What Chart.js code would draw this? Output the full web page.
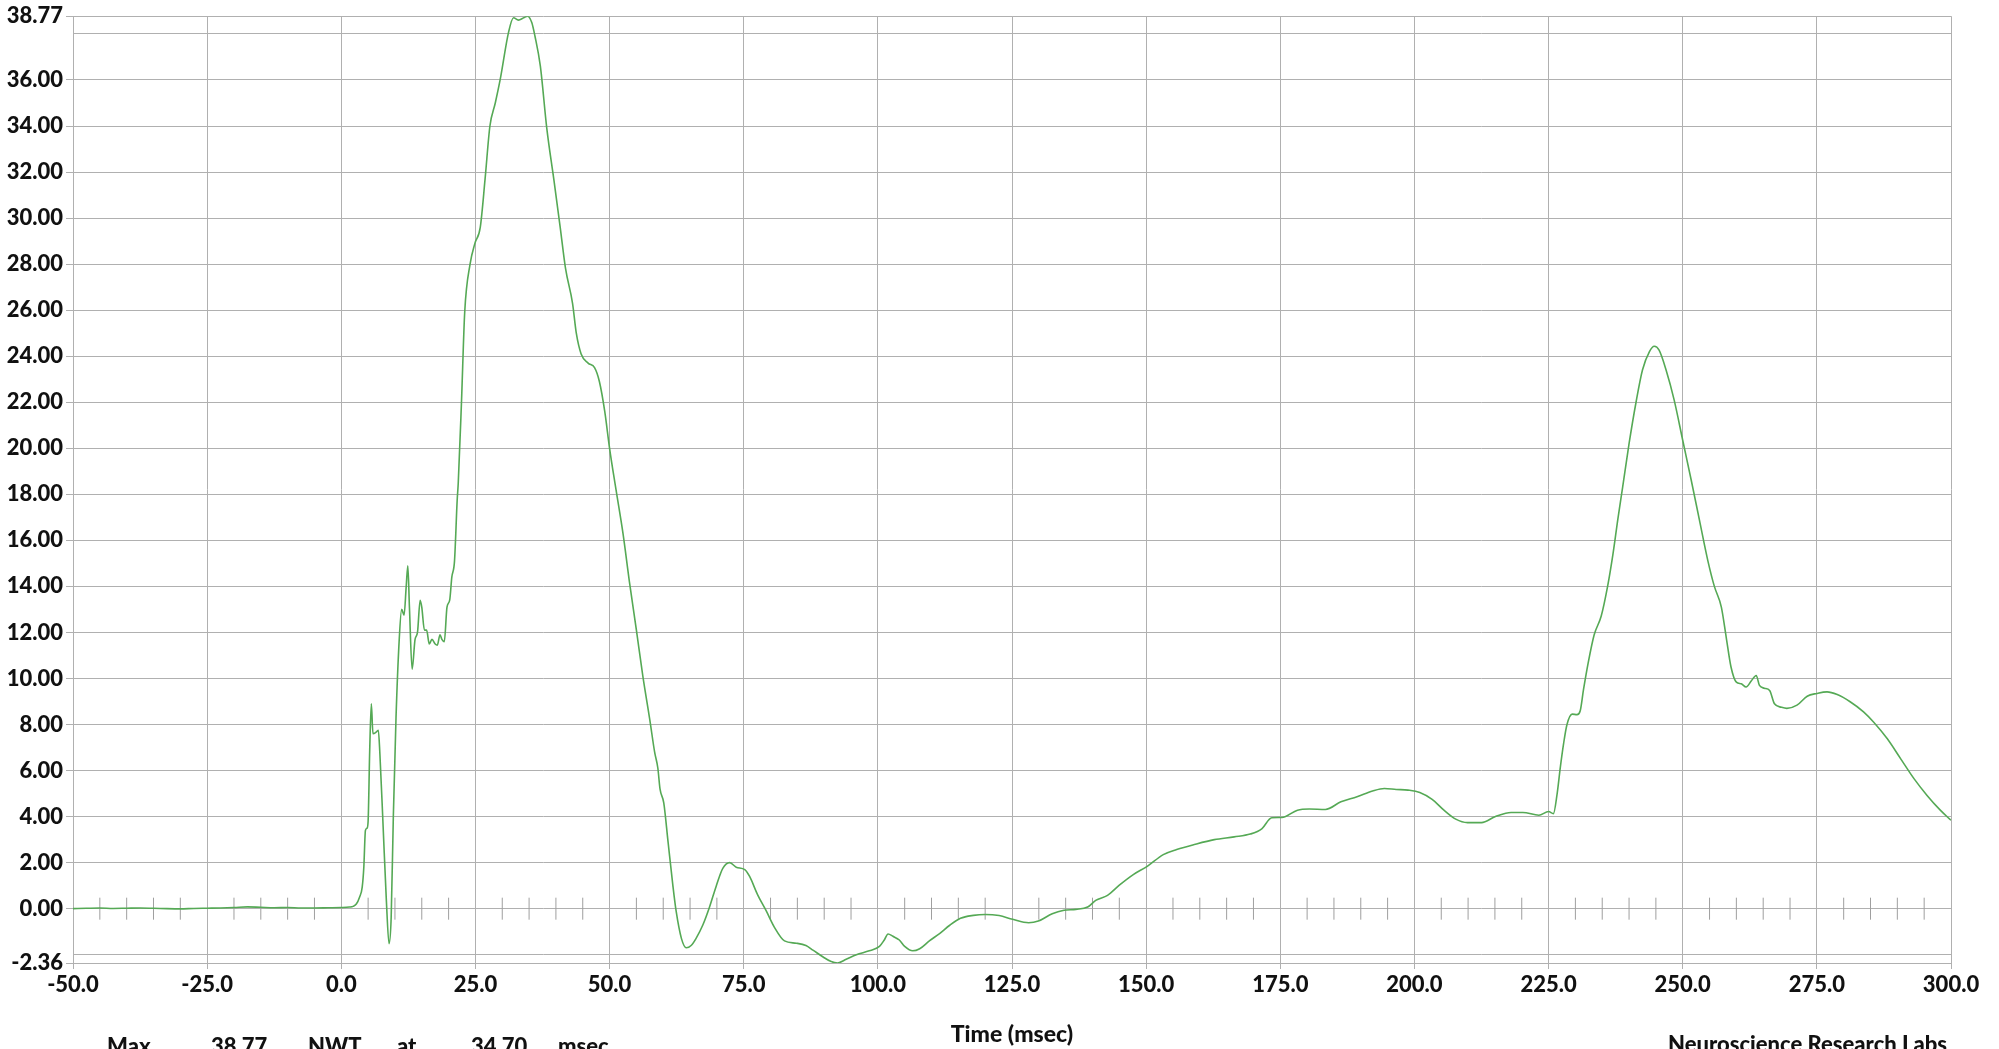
<!DOCTYPE html>
<html>
<head>
<meta charset="utf-8">
<script src="https://cdn.jsdelivr.net/npm/chart.js@4.4.0/dist/chart.umd.min.js"></script>
<style>
  html, body { margin: 0; padding: 0; background: #ffffff; overflow: hidden; }
  #wrap { position: relative; width: 1999px; height: 1049px; overflow: hidden; }
  .note { position: absolute; font-family: Lato, "Open Sans", sans-serif; font-weight: 900;
          font-size: 22px; line-height: 22px; color: #111111; white-space: nowrap; }
</style>
</head>
<body>
<div id="wrap">
  <canvas id="chart" width="1999" height="1049"></canvas>
  <span class="note" style="left:107px; top:1035px;">Max</span>
  <span class="note" style="left:211px; top:1035px;">38.77</span>
  <span class="note" style="left:308px; top:1035px;">NWT</span>
  <span class="note" style="left:397px; top:1035px;">at</span>
  <span class="note" style="left:471px; top:1035px;">34.70</span>
  <span class="note" style="left:558px; top:1035px;">msec</span>
  <span class="note" style="left:1668px; top:1033px;">Neuroscience Research Labs</span>
</div>
<script>
// ---- data ----
const timeMs = [
  -50, -47.5, -45, -42.5, -40, -37.5, -35, -32.5, -30, -27.5, -25, -22.5, -20, -17.5, -15, -12.5, -10, -7.5, -5, -2.5,
  0, 1.5, 2.2, 2.8, 3.4, 3.9, 4.2, 4.5, 4.8, 5.0, 5.3, 5.6, 5.9, 6.4, 6.9, 7.2, 7.8, 8.4, 8.9, 9.3,
  9.7, 10.2, 10.8, 11.25, 11.7, 12.1, 12.4, 12.7, 13.2, 13.75, 14.2, 14.7, 15.0, 15.5, 15.9, 16.4, 16.9, 17.5, 17.9, 18.4,
  18.75, 19.2, 19.7, 20.2, 20.6, 21.1, 21.6, 21.8, 22.4, 23.0, 24.0, 24.9, 25.9, 26.8, 27.7, 28.7, 29.6, 31.2, 32.1, 33.0,
  34.0, 34.7, 35.5, 36.1, 37.1, 38.3, 39.6, 40.8, 41.8, 43.1, 43.8, 44.7, 46.0, 47.2, 48.1, 49.1, 50.0, 51.2, 52.5, 53.7,
  55.0, 56.2, 57.5, 58.4, 59.0, 59.4, 60.1, 60.9, 61.8, 62.4, 63.4, 64.3, 65.2, 66.1, 67.4, 68.6, 69.9, 71.1, 72.4, 73.6,
  75.2, 76.1, 77.6, 79.2, 80.7, 82.6, 84.8, 86.6, 87.9, 89.8, 91.3, 92.5, 94.1, 96.0, 98.4, 100.3, 101.2, 101.9, 102.8, 104.0,
  105.0, 106.5, 107.8, 109.6, 111.5, 113.4, 115.4, 117.8, 120.0, 122.6, 125.1, 128.1, 129.9, 132.5, 134.7, 136.9, 139.1, 140.6, 142.8, 145.0,
  147.6, 150.2, 153.2, 155.7, 159.0, 162.7, 166.4, 169.4, 171.6, 173.4, 175.3, 178.2, 180.4, 183.4, 186.3, 189.3, 192.2, 194.4, 196.6, 198.8,
  201.0, 203.3, 205.5, 207.7, 209.9, 212.5, 215.1, 218.0, 220.2, 223.2, 225.0, 225.9, 226.6, 227.2, 227.8, 228.4, 229.4, 230.3, 230.9, 231.5,
  232.4, 233.5, 234.8, 236.0, 237.0, 237.9, 238.8, 240.0, 241.3, 242.5, 243.8, 244.7, 245.6, 246.9, 248.4, 250.0, 251.6, 253.1, 254.7, 255.9,
  257.2, 258.1, 259.0, 260.0, 260.9, 261.8, 262.8, 263.7, 264.3, 265.2, 266.2, 267.1, 268.4, 269.4, 271.3, 273.2, 275.0, 276.9, 278.8, 281.2,
  283.7, 285.6, 288.1, 290.6, 293.1, 295.5, 298.0, 300.0
];
const forceNwt = [
  0.00, 0.02, 0.03, 0.01, 0.02, 0.03, 0.02, 0.00, -0.01, 0.01, 0.02, 0.03, 0.05, 0.08, 0.06, 0.04, 0.05, 0.03, 0.03, 0.04,
  0.05, 0.07, 0.10, 0.20, 0.50, 0.94, 1.80, 3.40, 3.50, 3.80, 6.90, 8.90, 7.60, 7.65, 7.75, 6.70, 3.55, 0.36, -1.52, -0.36,
  4.00, 8.30, 11.70, 13.00, 12.75, 14.00, 14.90, 13.10, 10.40, 11.70, 12.00, 13.40, 13.10, 12.10, 12.10, 11.50, 11.70, 11.50, 11.45, 11.90,
  11.70, 11.60, 13.10, 13.40, 14.40, 15.10, 17.75, 18.50, 22.00, 25.90, 28.00, 28.90, 29.60, 31.70, 34.00, 35.00, 36.00, 38.10, 38.70, 38.60,
  38.70, 38.77, 38.50, 37.90, 36.60, 33.90, 31.70, 29.60, 27.80, 26.30, 25.00, 24.10, 23.70, 23.50, 22.90, 21.60, 20.00, 18.20, 16.30, 14.20,
  12.10, 10.10, 8.20, 6.80, 6.10, 5.20, 4.60, 2.90, 1.00, -0.10, -1.30, -1.70, -1.60, -1.30, -0.70, 0.05, 1.00, 1.75, 2.00, 1.80,
  1.70, 1.40, 0.60, -0.10, -0.80, -1.40, -1.50, -1.60, -1.80, -2.10, -2.30, -2.36, -2.20, -2.00, -1.83, -1.64, -1.36, -1.10, -1.20, -1.36,
  -1.64, -1.83, -1.74, -1.40, -1.08, -0.72, -0.42, -0.29, -0.25, -0.30, -0.46, -0.61, -0.54, -0.22, -0.07, -0.03, 0.07, 0.36, 0.58, 1.02,
  1.48, 1.84, 2.35, 2.57, 2.79, 3.00, 3.12, 3.24, 3.48, 3.95, 3.96, 4.28, 4.33, 4.31, 4.64, 4.86, 5.11, 5.22, 5.18, 5.15,
  5.05, 4.75, 4.28, 3.89, 3.74, 3.74, 4.00, 4.18, 4.18, 4.06, 4.22, 4.13, 5.00, 6.16, 7.17, 7.97, 8.45, 8.43, 8.60, 9.50,
  10.70, 11.90, 12.70, 14.00, 15.40, 16.90, 18.30, 20.20, 22.00, 23.40, 24.20, 24.43, 24.26, 23.40, 22.10, 20.35, 18.60, 16.90, 15.10, 14.00,
  13.10, 11.80, 10.50, 9.84, 9.77, 9.63, 9.90, 10.13, 9.70, 9.58, 9.48, 8.90, 8.75, 8.70, 8.84, 9.23, 9.35, 9.42, 9.30, 8.99,
  8.55, 8.10, 7.39, 6.52, 5.65, 4.93, 4.28, 3.84
];
const xTickValues = [-50, -25, 0, 25, 50, 75, 100, 125, 150, 175, 200, 225, 250, 275, 300];
const yTickValues = [-2.36, -2, 0, 2, 4, 6, 8, 10, 12, 14, 16, 18, 20, 22, 24, 26, 28, 30, 32, 34, 36, 38, 38.77];
const yUnlabeled = [-2, 38];
const minorTickTimes = [
  -45, -40, -35, -30, -20, -15, -10, -5, 5, 10, 15, 20, 30, 35, 40, 45, 55, 60, 65, 70,
  80, 85, 90, 95, 105, 110, 115, 120, 130, 135, 140, 145, 155, 160, 165, 170, 180, 185, 190, 195,
  205, 210, 215, 220, 230, 235, 240, 245, 255, 260, 265, 270, 280, 285, 290, 295
];
const xTitle = 'Time (msec)';

// ---- chart ----
const FONT = { family: 'Lato, "Open Sans", sans-serif', weight: '900', size: 22 };
const TITLE_FONT = { family: 'Lato, "Open Sans", sans-serif', weight: '900', size: 23 };
const GRID = '#b0b0b0';
const isUnlabeled = v => yUnlabeled.some(u => Math.abs(u - v) < 1e-9);

new Chart(document.getElementById('chart'), {
  type: 'line',
  data: {
    datasets: [
      {
        label: 'Force',
        data: timeMs.map((t, i) => ({ x: t, y: forceNwt[i] })),
        borderColor: '#55a955',
        borderWidth: 1.6,
        pointRadius: 0,
        cubicInterpolationMode: 'monotone',
        fill: false,
        order: 1
      },
      {
        label: 'minor ticks',
        data: minorTickTimes.map(t => ({ x: t, y: 0 })),
        showLine: false,
        pointStyle: 'line',
        rotation: 90,
        pointRadius: 11,
        pointHoverRadius: 11,
        borderColor: '#9f9f9f',
        borderWidth: 1,
        order: 2
      }
    ]
  },
  options: {
    responsive: false,
    animation: false,
    events: [],
    layout: { padding: { top: 16, right: 48, left: 0, bottom: 0 } },
    plugins: { legend: { display: false }, tooltip: { enabled: false } },
    scales: {
      x: {
        type: 'linear',
        min: -50,
        max: 300,
        afterBuildTicks: s => { s.ticks = xTickValues.map(v => ({ value: v })); },
        afterFit: s => { s.height = 86; },
        grid: { color: GRID, lineWidth: 1, tickLength: 6, tickColor: GRID },
        border: { color: GRID, width: 1 },
        ticks: {
          autoSkip: false, maxRotation: 0, minRotation: 0, padding: 3,
          color: '#111111', font: FONT,
          callback: v => Number(v).toFixed(1)
        },
        title: { display: true, text: xTitle, color: '#111111', font: TITLE_FONT, padding: { top: 0, bottom: 1 } }
      },
      y: {
        type: 'linear',
        min: -2.36,
        max: 38.77,
        afterBuildTicks: s => { s.ticks = yTickValues.map(v => ({ value: v })); },
        afterFit: s => { s.width = 73; },
        grid: {
          color: GRID, lineWidth: 1, tickLength: 7,
          tickColor: c => (c.tick && isUnlabeled(c.tick.value)) ? 'rgba(0,0,0,0)' : GRID
        },
        border: { color: GRID, width: 1 },
        ticks: {
          autoSkip: false, padding: 3, color: '#111111', font: FONT,
          callback: v => isUnlabeled(v) ? '' : Number(v).toFixed(2)
        }
      }
    }
  }
});
</script>
</body>
</html>
